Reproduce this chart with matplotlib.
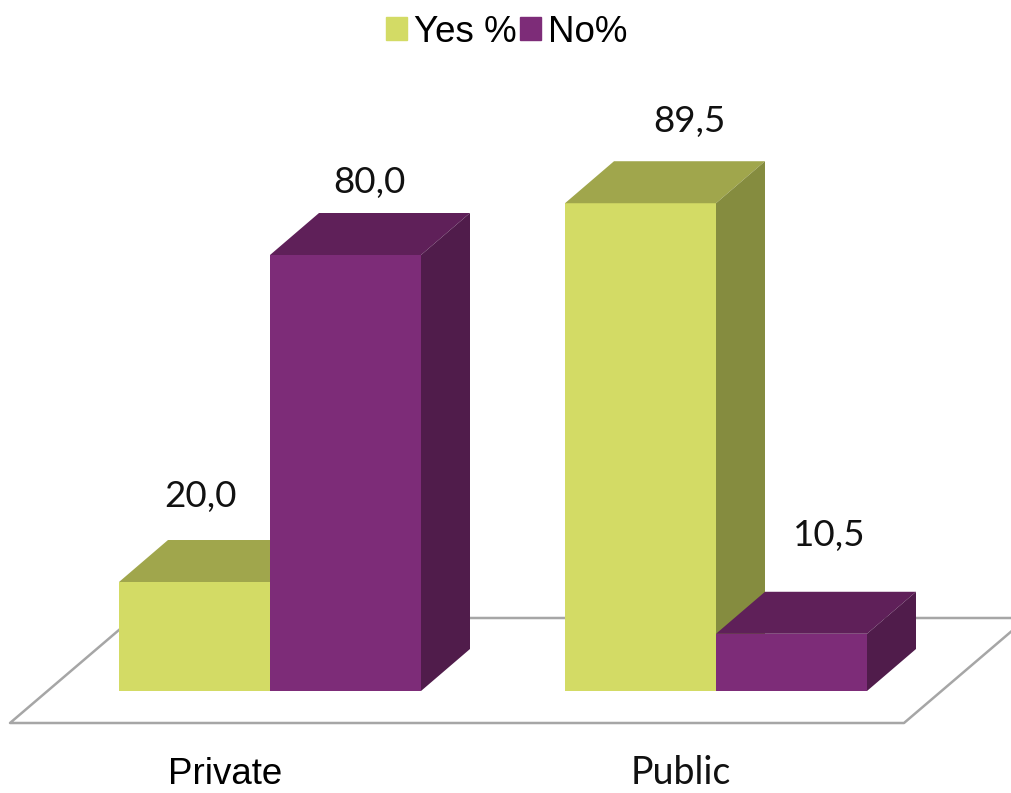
import matplotlib
matplotlib.use("Agg")
import matplotlib.pyplot as plt
from matplotlib.patches import Patch

categories = ["Private", "Public"]
yes_values = [20.0, 89.5]
no_values = [80.0, 10.5]
series_names = ["Yes %", "No%"]

W, H = 1012, 793
BASE_PX = 691          # pixel row of value 0
PX_PER_UNIT = 5.45     # vertical pixels for one percent
GROUP_PX = [270, 716]  # pixel column where the two bars of a group meet
BAR_PX = 151
DEPTH_X, DEPTH_Y = 49, 42

YES_COLS = ["#d3db65", "#a0a64c", "#858c3f"]  # front, top, side
NO_COLS = ["#7d2c78", "#5f2059", "#501c4b"]

# x axis runs in pixels so the oblique depth stays simple, y axis in percent
fig = plt.figure(figsize=(W / 100, H / 100), dpi=100)
ax = fig.add_axes([0, 0, 1, 1])
ax.set_xlim(0, W)
ax.set_ylim((BASE_PX - H) / PX_PER_UNIT, BASE_PX / PX_PER_UNIT)
ax.axis("off")


def ToY(px):
    return (BASE_PX - px) / PX_PER_UNIT


def DrawBar(left, value, cols):
    ax.bar(left, value, BAR_PX, align="edge", color=cols[0], linewidth=0, zorder=3)
    right = left + BAR_PX
    dy = DEPTH_Y / PX_PER_UNIT
    ax.fill([left, right, right + DEPTH_X, left + DEPTH_X],
            [value, value, value + dy, value + dy],
            color=cols[1], linewidth=0, zorder=3)
    ax.fill([right, right + DEPTH_X, right + DEPTH_X, right],
            [0, dy, value + dy, value],
            color=cols[2], linewidth=0, zorder=3)


# floor
floor_x = [133, 10, 904, 1027, 133]
floor_y = [ToY(618), ToY(723), ToY(723), ToY(618), ToY(618)]
ax.plot(floor_x, floor_y, color="#a6a6a6", linewidth=1.8, zorder=1)

for i in range(0, len(categories)):
    DrawBar(GROUP_PX[i] - BAR_PX, yes_values[i], YES_COLS)
    DrawBar(GROUP_PX[i], no_values[i], NO_COLS)

# value labels, offsets in pixels from the top middle of each bar
yes_offsets = [(6, 85), (49, 82)]
no_offsets = [(24, 72), (38, 98)]
for i in range(0, len(categories)):
    for value, off, left in [(yes_values[i], yes_offsets[i], GROUP_PX[i] - BAR_PX),
                             (no_values[i], no_offsets[i], GROUP_PX[i])]:
        ax.annotate(f"{value:.1f}".replace(".", ","),
                    (left + BAR_PX / 2, value), xytext=off,
                    textcoords="offset pixels", ha="center", va="center",
                    fontsize=26.5, family="Lato", color="#111111", zorder=4)

# the picture ends just under this label, so it sits a little high
ax.text(225, ToY(775), categories[0], ha="center", va="center",
        fontsize=26.5, family="Liberation Sans", color="black")
ax.text(681, ToY(773), categories[1], ha="center", va="center",
        fontsize=27, family="Lato", color="#111111")

handles = [Patch(color=YES_COLS[0], label=series_names[0]),
           Patch(color=NO_COLS[0], label=series_names[1])]
fig.legend(handles=handles, loc="center", bbox_to_anchor=(507 / W, 1 - 32 / H),
           ncol=2, frameon=False, prop={"family": "Liberation Sans", "size": 26.5},
           handlelength=0.56, handleheight=0.56, handletextpad=0.2,
           columnspacing=0.1, borderpad=0)

fig.savefig("out.png", dpi=100)
